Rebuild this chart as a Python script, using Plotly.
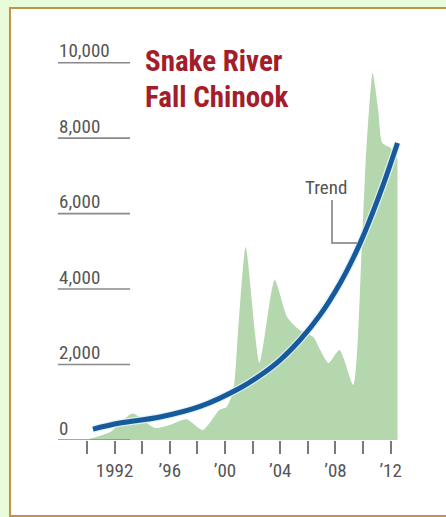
import plotly.graph_objects as go

# ---- data ----
area_years = [1990.2, 1991.7, 1993.3, 1994.9, 1996.0, 1997.2, 1998.4, 1999.6, 2000.1, 2000.6,
              2000.95, 2001.5, 2002.5, 2003.6, 2004.5, 2005.4, 2006.4, 2006.9, 2007.5, 2008.3,
              2009.3, 2009.9, 2010.2, 2010.7, 2011.1, 2011.4, 2012.0, 2012.5]
area_vals = [30, 210, 700, 320, 400, 550, 265, 800, 870, 1300,
             2900, 5115, 2040, 4240, 3260, 2915, 2730, 2385, 2040, 2385,
             1460, 5000, 7400, 9725, 8745, 7870, 7740, 7450]

trend_years = [1990.43, 1992.39, 1995.29, 1998.19, 2001.09, 2002.54, 2003.99,
               2005.43, 2006.88, 2008.33, 2009.3, 2010.1, 2011.4, 2012.5]
trend_vals = [290, 450, 610, 890, 1380, 1710, 2120, 2650, 3310, 4150, 4830, 5480, 6700, 7870]

y_ticks = [0, 2000, 4000, 6000, 8000, 10000]
y_tick_labels = ["0", "2,000", "4,000", "6,000", "8,000", "10,000"]
x_ticks = [1990, 1992, 1994, 1996, 1998, 2000, 2002, 2004, 2006, 2008, 2010, 2012]
x_tick_labels = ["", "1992", "", "\u201996", "", "\u201900", "", "\u201904", "", "\u201908", "", "\u201912"]

title_lines = ["Snake River", "Fall Chinook"]
trend_label = "Trend"

NARROW = "Liberation Sans Narrow, Roboto Condensed, Roboto, sans-serif"
GRAY = "#555555"

fig = go.Figure()
fig.add_trace(go.Scatter(x=area_years, y=area_vals, mode="lines", fill="tozeroy",
                         fillcolor="#b4d7ae", line=dict(width=0, shape="spline", smoothing=0.6),
                         hoverinfo="skip", showlegend=False))
fig.add_trace(go.Scatter(x=trend_years, y=trend_vals, mode="lines",
                         line=dict(width=7.5, color="rgba(225,240,250,0.9)", shape="spline"),
                         hoverinfo="skip", showlegend=False))
fig.add_trace(go.Scatter(x=trend_years, y=trend_vals, mode="lines",
                         line=dict(width=5, color="#165a9c", shape="spline"),
                         hoverinfo="skip", showlegend=False))

shapes = []
# frame
shapes.append(dict(type="rect", xref="paper", yref="paper", x0=-0.079, x1=1.09, y0=-0.19, y1=1.08,
                   line=dict(color="#c4914a", width=2), fillcolor="white", layer="below"))
annotations = []
for v, t in zip(y_ticks, y_tick_labels):
    shapes.append(dict(type="line", xref="paper", yref="y", x0=0.047, x1=0.237, y0=v, y1=v,
                       line=dict(color="#8a8a8a", width=1.6)))
    annotations.append(dict(xref="paper", yref="y", x=0.045, y=v, yshift=12, text=t,
                            showarrow=False, xanchor="left", yanchor="middle",
                            font=dict(family=NARROW, size=19, color=GRAY)))

annotations.append(dict(xref="paper", yref="paper", x=0.271, y=(440 - 61) / 400, text=title_lines[0],
                        showarrow=False, xanchor="left", yanchor="middle",
                        font=dict(family=NARROW, size=29, color="#a31d2b", weight="bold")))
annotations.append(dict(xref="paper", yref="paper", x=0.271, y=(440 - 97) / 400, text=title_lines[1],
                        showarrow=False, xanchor="left", yanchor="middle",
                        font=dict(family=NARROW, size=29, color="#a31d2b", weight="bold")))
annotations.append(dict(xref="paper", yref="paper", x=(326 - 40) / 380, y=(440 - 187) / 400, text=trend_label,
                        showarrow=False, xanchor="center", yanchor="middle",
                        font=dict(family=NARROW, size=19, color=GRAY)))
# leader line
shapes.append(dict(type="path", xref="paper", yref="paper",
                   path="M {:.4f},{:.4f} L {:.4f},{:.4f} L {:.4f},{:.4f}".format(
                       (332 - 40) / 380, (440 - 200) / 400, (332 - 40) / 380, (440 - 243) / 400,
                       (357 - 40) / 380, (440 - 243) / 400),
                   line=dict(color="#7a7a7a", width=1.5)))

fig.update_layout(
    width=446, height=517,
    margin=dict(l=40, r=26, t=40, b=77),
    paper_bgcolor="#e9fcd9",
    plot_bgcolor="rgba(0,0,0,0)",
    shapes=shapes,
    annotations=annotations,
    xaxis=dict(range=[1986.594, 2014.13], tickvals=x_ticks, ticktext=x_tick_labels,
               ticks="outside", ticklen=13, tickwidth=1.5, tickcolor="#7a7a7a",
               showgrid=False, zeroline=False, showline=False,
               tickfont=dict(family=NARROW, size=19, color=GRAY)),
    yaxis=dict(range=[0, 10601], showticklabels=False, showgrid=False, zeroline=False,
               showline=False, ticks=""),
)
fig.write_html("out.html")
